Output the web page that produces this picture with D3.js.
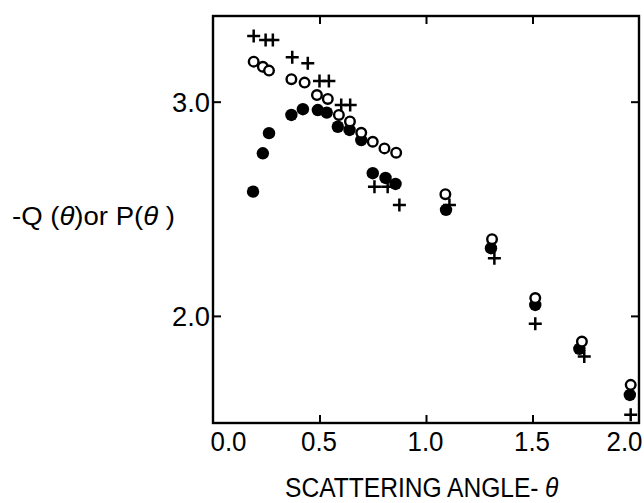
<!DOCTYPE html>
<html>
<head>
<meta charset="utf-8">
<script src="https://cdn.jsdelivr.net/npm/d3@7"></script>
<style>
  html, body { margin: 0; padding: 0; background: #fff; }
  svg { display: block; }
  text { font-family: "Liberation Sans", Arial, sans-serif; fill: #000; }
</style>
</head>
<body>
<svg id="chart" width="644" height="503"></svg>
<script>
// Scattering angle (theta) for each measured series
const plusTheta   = [0.191, 0.247, 0.281, 0.372, 0.445, 0.500, 0.544, 0.602, 0.644, 0.758, 0.820, 0.875, 1.110, 1.321, 1.513, 1.743, 1.961];
const plusValue   = [3.307, 3.288, 3.288, 3.207, 3.179, 3.097, 3.097, 2.985, 2.985, 2.603, 2.603, 2.518, 2.518, 2.269, 1.963, 1.810, 1.538];

const openTheta   = [0.191, 0.234, 0.263, 0.368, 0.430, 0.488, 0.539, 0.591, 0.643, 0.696, 0.750, 0.805, 0.860, 1.091, 1.310, 1.513, 1.732, 1.961];
const openValue   = [3.187, 3.163, 3.145, 3.105, 3.089, 3.031, 3.013, 2.938, 2.908, 2.855, 2.813, 2.782, 2.762, 2.568, 2.358, 2.083, 1.880, 1.678];

const filledTheta = [0.188, 0.234, 0.263, 0.368, 0.422, 0.492, 0.534, 0.586, 0.641, 0.696, 0.750, 0.810, 0.857, 1.094, 1.305, 1.513, 1.720, 1.957];
const filledValue = [2.580, 2.759, 2.853, 2.938, 2.965, 2.961, 2.949, 2.883, 2.868, 2.821, 2.666, 2.644, 2.616, 2.495, 2.316, 2.051, 1.846, 1.631];

const xTicks = [0.0, 0.5, 1.0, 1.5, 2.0];
const yTicks = [2.0, 3.0];
const xDomain = [0, 2.0];
const yDomain = [1.5, 3.4];

const svg = d3.select("#chart");
const W = 644, H = 503;
svg.append("rect").attr("width", W).attr("height", H).attr("fill", "#fff");

const frame = { left: 213, right: 639, top: 16, bottom: 423 };

const x = d3.scaleLinear().domain(xDomain).range([frame.left, frame.right]);
const y = d3.scaleLinear().domain(yDomain).range([frame.bottom, frame.top]);

// Plot frame
svg.append("rect")
  .attr("x", frame.left).attr("y", frame.top)
  .attr("width", frame.right - frame.left).attr("height", frame.bottom - frame.top)
  .attr("fill", "none").attr("stroke", "#000").attr("stroke-width", 2.4);

const tickLen = 8;
const fmt = d3.format(".1f");
const tickFont = "Liberation Sans, Arial, sans-serif";

// Bottom axis: inward ticks and labels
const gx = svg.append("g")
  .attr("transform", `translate(0,${frame.bottom})`)
  .call(d3.axisBottom(x).tickValues(xTicks).tickSizeInner(-tickLen).tickSizeOuter(0)
        .tickPadding(9).tickFormat(fmt));
gx.select(".domain").remove();
gx.selectAll(".tick line").attr("stroke", "#000").attr("stroke-width", 2)
  .filter(d => d === 0 || d === 2).remove();
gx.selectAll(".tick text")
  .style("font-size", "27px").style("font-family", tickFont)
  .attr("textLength", 36).attr("lengthAdjust", "spacingAndGlyphs")
  .attr("text-anchor", d => d === 0 ? "start" : (d === 2 ? "end" : "middle"))
  .attr("dx", d => d === 0 ? "-3" : (d === 2 ? "3" : "-1"));

// Top axis: inward ticks only
const gt = svg.append("g")
  .attr("transform", `translate(0,${frame.top})`)
  .call(d3.axisTop(x).tickValues(xTicks.filter(d => d > 0 && d < 2)).tickSizeInner(-tickLen).tickSizeOuter(0).tickFormat(""));
gt.select(".domain").remove();
gt.selectAll(".tick line").attr("stroke", "#000").attr("stroke-width", 2);

// Left axis
const gy = svg.append("g")
  .attr("transform", `translate(${frame.left},0)`)
  .call(d3.axisLeft(y).tickValues(yTicks).tickSizeInner(-tickLen).tickSizeOuter(0)
        .tickPadding(3).tickFormat(fmt));
gy.select(".domain").remove();
gy.selectAll(".tick line").attr("stroke", "#000").attr("stroke-width", 2);
gy.selectAll(".tick text")
  .style("font-size", "27px").style("font-family", tickFont)
  .attr("textLength", 38).attr("lengthAdjust", "spacingAndGlyphs")
  .attr("dy", "0.36em");

// Right axis: inward ticks only
const gr = svg.append("g")
  .attr("transform", `translate(${frame.right},0)`)
  .call(d3.axisRight(y).tickValues(yTicks).tickSizeInner(-tickLen).tickSizeOuter(0).tickFormat(""));
gr.select(".domain").remove();
gr.selectAll(".tick line").attr("stroke", "#000").attr("stroke-width", 2);

// Filled circles
const filled = filledTheta.map((t, i) => ({ t, v: filledValue[i] }));
svg.append("g").selectAll("circle").data(filled).join("circle")
  .attr("cx", d => x(d.t)).attr("cy", d => y(d.v)).attr("r", 6.2)
  .attr("fill", "#000");

// Open circles
const open = openTheta.map((t, i) => ({ t, v: openValue[i] }));
svg.append("g").selectAll("circle").data(open).join("circle")
  .attr("cx", d => x(d.t)).attr("cy", d => y(d.v)).attr("r", 4.8)
  .attr("fill", "#fff").attr("stroke", "#000").attr("stroke-width", 2.4);

// Plus markers
const plus = plusTheta.map((t, i) => ({ t, v: plusValue[i] }));
const arm = 6.5;
svg.append("g").selectAll("path").data(plus).join("path")
  .attr("d", d => {
    const cx = x(d.t), cy = y(d.v);
    return `M${cx - arm},${cy}H${cx + arm}M${cx},${cy - arm}V${cy + arm}`;
  })
  .attr("stroke", "#000").attr("stroke-width", 2.5).attr("fill", "none");

// Axis titles
const yTitle = svg.append("text")
  .attr("x", 12).attr("y", 225)
  .attr("textLength", 163).attr("lengthAdjust", "spacingAndGlyphs")
  .style("font-size", "25px");
yTitle.append("tspan").text("-Q (");
yTitle.append("tspan").style("font-style", "italic").text("θ");
yTitle.append("tspan").text(")or P(");
yTitle.append("tspan").style("font-style", "italic").text("θ");
yTitle.append("tspan").text(" )");

// x title: condensed horizontally to a fixed width
const xTitle = svg.append("text")
  .style("font-size", "27px");
xTitle.append("tspan").text("SCATTERING ANGLE-");
xTitle.append("tspan").attr("dx", 7).style("font-style", "italic").text("θ");
const natural = xTitle.node().getComputedTextLength();
const sx = 267 / natural;
xTitle.attr("transform", `translate(285,497) scale(${sx},1)`);
</script>
</body>
</html>
